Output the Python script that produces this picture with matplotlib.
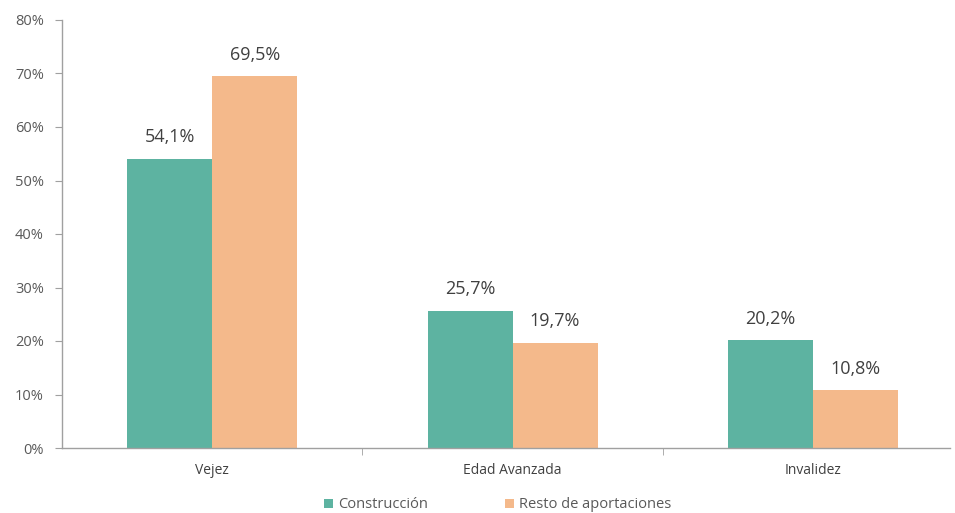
import matplotlib
matplotlib.use("Agg")
import matplotlib.pyplot as plt
import numpy as np

categories = ["Vejez", "Edad Avanzada", "Invalidez"]
construccion = [54.1, 25.7, 20.2]
resto = [69.5, 19.7, 10.8]
series_names = ["Construcción", "Resto de aportaciones"]
yticks = [0, 10, 20, 30, 40, 50, 60, 70, 80]

c_teal = "#5db3a1"
c_orange = "#f4b98b"
gray = "#595959"

plt.rcParams['font.family'] = ['Open Sans', 'DejaVu Sans']

fig = plt.figure(figsize=(9.55, 5.13), dpi=100)
ax = fig.add_axes([62 / 955, 1 - 448 / 513, (950 - 62) / 955, (448 - 20) / 513])

x = np.arange(len(categories))
w = 0.283
b1 = ax.bar(x - w / 2, construccion, w, color=c_teal, label=series_names[0])
b2 = ax.bar(x + w / 2, resto, w, color=c_orange, label=series_names[1])

for bars in (b1, b2):
    for r in bars:
        v = r.get_height()
        ax.text(r.get_x() + r.get_width() / 2, v + 2.3, f"{v:.1f}%".replace(".", ","),
                ha="center", va="bottom", fontsize=13, color="#404040")

ax.set_xlim(-0.5, 2.5 - 13 / 300)
ax.set_ylim(0, 80)
ax.set_yticks(yticks)
ax.set_yticklabels([f"{t}%" for t in yticks], fontsize=10.5, color=gray)
ax.set_xticks(x)
ax.set_xticklabels(categories, fontsize=10, color="#404040")
ax.tick_params(axis="x", length=0, pad=11)
ax.set_xticks([0.5, 1.5], minor=True)
ax.tick_params(axis="x", which="minor", length=5, color="#a0a0a0", direction="out")
ax.tick_params(axis="y", length=5, color="#a0a0a0", pad=8)

for s in ["top", "right"]:
    ax.spines[s].set_visible(False)
for s in ["left", "bottom"]:
    ax.spines[s].set_color("#a0a0a0")
    ax.spines[s].set_linewidth(1)

leg = fig.legend(handles=[b1, b2], labels=series_names, loc="center",
                 bbox_to_anchor=(0.521, 1 - 505 / 513), ncol=2, frameon=False,
                 fontsize=10.5, handlelength=0.6, handleheight=0.6, handletextpad=0.35,
                 columnspacing=5.3)
for t in leg.get_texts():
    t.set_color(gray)

fig.savefig("out.png", dpi=100)
